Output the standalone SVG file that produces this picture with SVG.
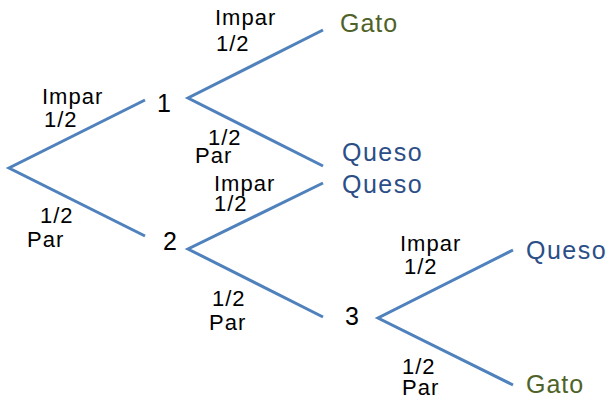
<svg xmlns="http://www.w3.org/2000/svg" width="612" height="402" viewBox="0 0 612 402">
<style>
.e{stroke:#4F81BD;stroke-width:3;fill:none}
.l{font-family:"Liberation Sans",Arial,sans-serif;font-size:22px;letter-spacing:1px;fill:#000}
.n{font-family:"Liberation Sans",Arial,sans-serif;font-size:25px;fill:#000}
.q{font-family:"Liberation Sans",Arial,sans-serif;font-size:25px;letter-spacing:1.5px;fill:#2C4E86}
.g{font-family:"Liberation Sans",Arial,sans-serif;font-size:25px;letter-spacing:1px;fill:#4F6228}
</style>
<rect width="612" height="402" fill="#fff"/>
<g id="connectors">
<path class="e" d="M145,100 L9,168 L145,236"/>
<path class="e" d="M323,30 L188,98 L323,166"/>
<path class="e" d="M323,183 L188,249 L323,317"/>
<path class="e" d="M513,250 L378,318 L513,385"/>
</g>
<g id="edge-labels">
<text class="l" x="42" y="104">Impar</text><text class="l" x="44" y="127">1/2</text>
<text class="l" x="40" y="223">1/2</text><text class="l" x="27" y="247">Par</text>
<text class="l" x="215" y="25">Impar</text><text class="l" x="216" y="51">1/2</text>
<text class="l" x="208" y="145">1/2</text><text class="l" x="195" y="163">Par</text>
<text class="l" x="214" y="191">Impar</text><text class="l" x="214" y="211">1/2</text>
<text class="l" x="212" y="306">1/2</text><text class="l" x="209" y="330">Par</text>
<text class="l" x="400" y="251">Impar</text><text class="l" x="404" y="274">1/2</text>
<text class="l" x="402" y="374">1/2</text><text class="l" x="402" y="395">Par</text>
</g>
<g id="node1"><text class="n" x="157" y="112">1</text></g>
<g id="node2"><text class="n" x="163" y="250">2</text></g>
<g id="node3"><text class="n" x="345" y="325">3</text></g>
<g id="gato1"><text class="g" x="340" y="32">Gato</text></g>
<g id="queso1"><text class="q" x="342" y="161">Queso</text></g>
<g id="queso2"><text class="q" x="342" y="193">Queso</text></g>
<g id="queso3"><text class="q" x="526" y="259">Queso</text></g>
<g id="gato2"><text class="g" x="526" y="393">Gato</text></g>
</svg>
